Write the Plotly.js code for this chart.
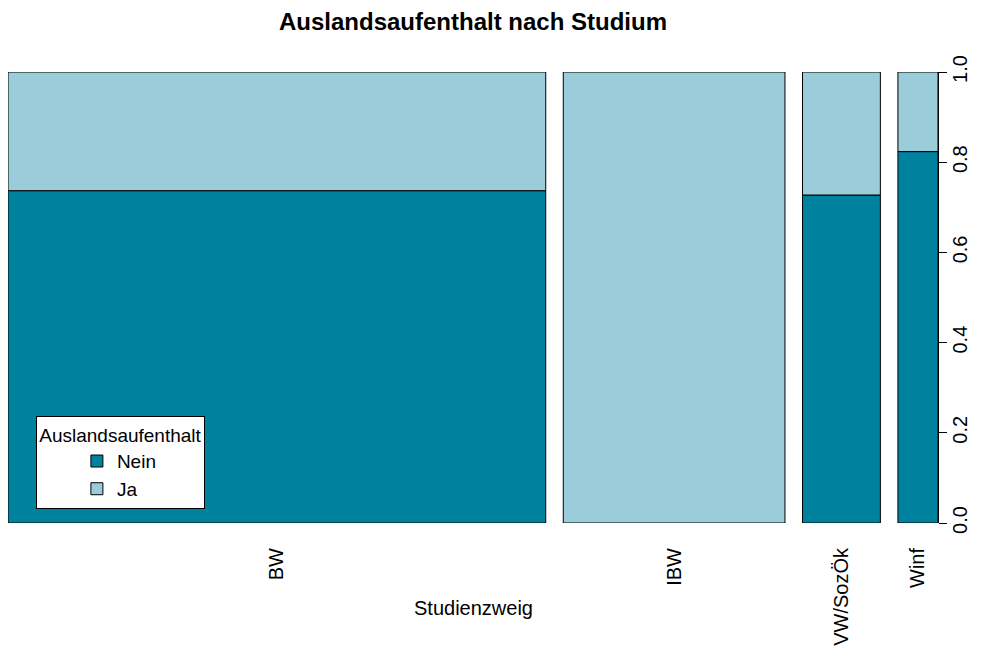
<!DOCTYPE html>
<html>
<head>
<meta charset="utf-8">
<script src="https://cdn.plot.ly/plotly-3.0.1.min.js"></script>
<style>html,body{margin:0;padding:0;background:#fff}#chart{width:992px;height:650px}</style>
</head>
<body>
<div id="chart"></div>
<script>
// Data (counts read from the spineplot)
const categories = ["BW", "IBW", "VW/SozÖk", "Winf"];
const neinCounts = [168, 0, 24, 14];
const jaCounts   = [60, 94, 9, 3];
const levelNames = ["Nein", "Ja"];
const yTicks = [0, 0.2, 0.4, 0.6, 0.8, 1.0];
const yTickText = ["0.0", "0.2", "0.4", "0.6", "0.8", "1.0"];

const colNein = "#00829F";
const colJa = "#9BCCD9";
const gap = 0.02;

const totals = categories.map((c, i) => neinCounts[i] + jaCounts[i]);
const N = totals.reduce((a, b) => a + b, 0);
const widths = totals.map(t => t / N);
const centers = [];
let acc = 0;
widths.forEach((w, i) => { centers.push(acc + w / 2); acc += w + gap; });
const xMax = 1 + gap * (categories.length - 1);
const pNein = neinCounts.map((n, i) => n / totals[i]);
const pJa = jaCounts.map((n, i) => n / totals[i]);

const font = "Liberation Sans, Arial, Helvetica, sans-serif";

const traces = [
  {
    type: "bar", name: levelNames[0], x: centers, y: pNein, base: 0, width: widths,
    marker: {color: colNein, line: {color: "#000", width: 1}}, hoverinfo: "skip"
  },
  {
    type: "bar", name: levelNames[1], x: centers, y: pJa, base: pNein, width: widths,
    marker: {color: colJa, line: {color: "#000", width: 1}}, hoverinfo: "skip"
  }
];

const layout = {
  width: 992, height: 650,
  margin: {l: 8, r: 54, t: 72, b: 127},
  paper_bgcolor: "#fff", plot_bgcolor: "#fff",
  barmode: "overlay",
  font: {family: font, size: 20, color: "#000"},
  title: {
    text: "<b>Auslandsaufenthalt nach Studium</b>",
    font: {family: font, size: 24, color: "#000"},
    x: 0.5, xref: "paper", y: 1 - 22 / 650, yref: "container", yanchor: "middle"
  },
  xaxis: {
    range: [0, xMax], showgrid: false, zeroline: false, showline: false,
    tickvals: centers, ticktext: categories, tickangle: -90,
    ticks: "", ticklabelstandoff: 20, tickfont: {size: 20}, fixedrange: true
  },
  yaxis: {
    range: [0, 1], side: "right", showgrid: false, zeroline: false,
    showline: true, linecolor: "#000", linewidth: 1,
    ticks: "outside", ticklen: 8, tickcolor: "#000",
    tickvals: yTicks, ticktext: yTickText, tickangle: -90, tickfont: {size: 20},
    ticklabelstandoff: -4, fixedrange: true
  },
  showlegend: true,
  legend: {
    x: 0.03, y: 0.03, xanchor: "left", yanchor: "bottom",
    bgcolor: "#fff", bordercolor: "#000", borderwidth: 1,
    title: {text: "Auslandsaufenthalt", side: "top center", font: {size: 19}},
    font: {size: 19}, traceorder: "normal", indentation: 40
  },
  annotations: [{
    text: "Studienzweig", xref: "paper", yref: "paper", x: 0.5, y: (523 - 608) / 451,
    xanchor: "center", yanchor: "middle", showarrow: false, font: {size: 20}
  }]
};

Plotly.newPlot("chart", traces, layout, {displayModeBar: false, staticPlot: true});
</script>
</body>
</html>
